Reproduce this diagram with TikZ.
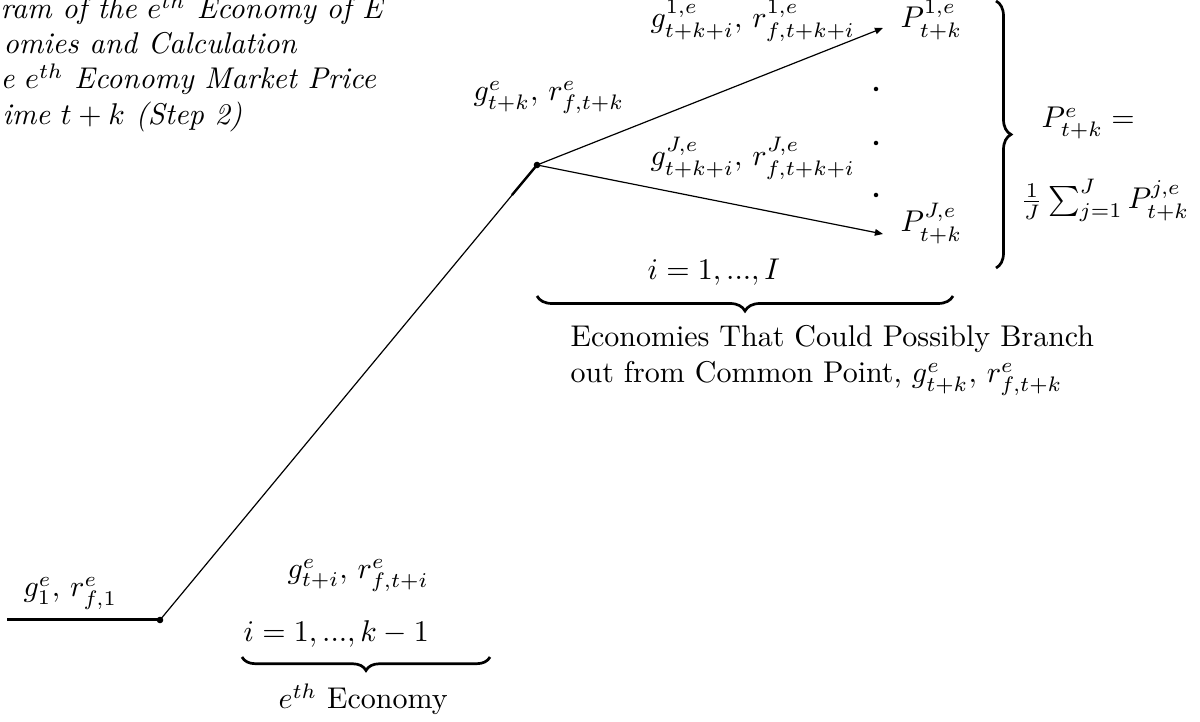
\documentclass[tikz,border=0pt]{standalone}
\usetikzlibrary{arrows.meta,decorations.pathreplacing}
\begin{document}
\begin{tikzpicture}[x=0.33333pt,y=-0.33333pt,
  thinline/.style={line width=0.4pt},
  thickline/.style={line width=1pt},
  bigdot/.style={circle,fill,inner sep=0pt,minimum size=2.2pt},
  smalldot/.style={circle,fill,inner sep=0pt,minimum size=1.5pt},
  lbl/.style={anchor=base west,inner sep=0pt},
  arr/.style={-{Triangle[length=2.7pt,width=2.2pt]},line width=0.4pt},
  brc/.style={decorate,decoration={brace,amplitude=#1},line width=0.9pt},
  brc/.default=5pt]
\useasboundingbox (0,0) rectangle (1200,722);

% title (cut at the left edge)
\node[lbl] (title1) at (0,19) {\itshape ram of the $e^{th}$ Economy of E};
\node[lbl] (title2) at (3,54) {\itshape omies and Calculation};
\node[lbl] (title3) at (0,89) {\itshape e $e^{th}$ Economy Market Price};
\node[lbl] (title4) at (2,125) {\itshape ime $t+k$ (Step 2)};

% path points
\coordinate (start) at (7,620);
\node[bigdot] (p1) at (160,620) {};
\node[bigdot] (p2) at (537,165) {};
\coordinate (bend) at (512,195);
\coordinate (tip1) at (883,28);
\coordinate (tip2) at (883,234);

\draw[thickline] (start) -- (p1.center);
\draw[thinline] (p1.center) -- (p2.center);
\draw[line width=0.8pt] (bend) -- (p2.center);
\draw[arr] (p2.center) -- (tip1);
\draw[arr] (p2.center) -- (tip2);

% vertical dots
\node[smalldot] (d1) at (876,89) {};
\node[smalldot] (d2) at (876,143) {};
\node[smalldot] (d3) at (876,195) {};

% labels
\node[lbl] (g1) at (23,597) {$g^{e}_{1},\, r^{e}_{f,1}$};
\node[lbl] (gti) at (287,579) {$g^{e}_{t+i},\, r^{e}_{f,t+i}$};
\node[lbl] (ik) at (243,642) {$i = 1, ..., k - 1$};
\node[lbl] (eth) at (278,709) {$e^{th}$ Economy};
\node[lbl] (gtk) at (473,101) {$g^{e}_{t+k},\, r^{e}_{f,t+k}$};
\node[lbl] (g1e) at (650,28) {$g^{1,e}_{t+k+i},\, r^{1,e}_{f,t+k+i}$};
\node[lbl] (gJe) at (650,166) {$g^{J,e}_{t+k+i},\, r^{J,e}_{f,t+k+i}$};
\node[lbl] (P1) at (900,28) {$P^{1,e}_{t+k}$};
\node[lbl] (PJ) at (900,232) {$P^{J,e}_{t+k}$};
\node[lbl] (iI) at (647,280) {$i = 1, ..., I$};
\node[lbl] (Pe) at (1041,128) {$P^{e}_{t+k} =$};
\node[lbl] (avg) at (1020,209) {$\frac{1}{J}\sum_{j=1}^{J} P^{j,e}_{t+k}$};
\node[lbl] (econ1) at (570,347) {Economies That Could Possibly Branch};
\node[lbl] (econ2) at (570,383) {out from Common Point, $g^{e}_{t+k},\, r^{e}_{f,t+k}$};

% braces
\draw[brc] (953,296) -- (537,296);
\draw[brc=4.5pt] (490,657) -- (242,657);
\draw[brc] (996,1) -- (996,268);
\end{tikzpicture}
\end{document}
